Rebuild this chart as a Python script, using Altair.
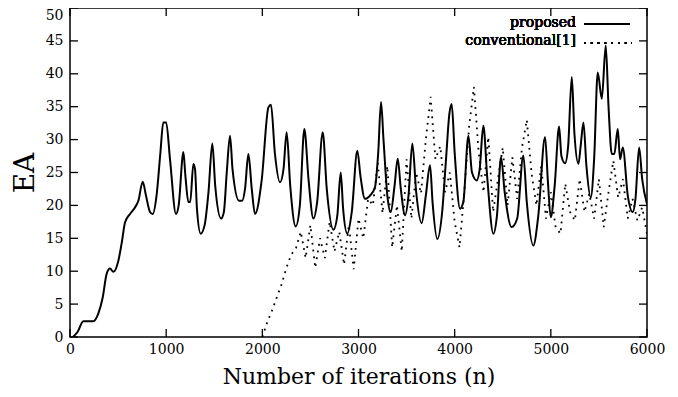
import altair as alt
import pandas as pd

# ---- data ----
prop_n = [30, 80, 139, 243, 295, 340, 381, 416, 451, 503, 540, 572, 624, 676, 711, 756, 790, 832, 860,
          900, 940, 970, 1000, 1040, 1102, 1130, 1179, 1200, 1231, 1250, 1283, 1300, 1320, 1359, 1400,
          1440, 1480, 1510, 1571, 1600, 1630, 1664, 1690, 1758, 1790, 1820, 1855, 1890, 1924, 1993,
          2063, 2090, 2130, 2184, 2220, 2253, 2290, 2347, 2390, 2437, 2480, 2531, 2570, 2628, 2670,
          2739, 2780, 2815, 2840, 2884, 2930, 2988, 3020, 3068, 3120, 3172, 3205, 3234, 3260, 3300,
          3335, 3375, 3408, 3440, 3484, 3520, 3560, 3600, 3657, 3700, 3744, 3770, 3820, 3870, 3910,
          3945, 3969, 4000, 4056, 4090, 4143, 4180, 4230, 4260, 4298, 4340, 4402, 4440, 4482, 4520,
          4593, 4650, 4714, 4750, 4818, 4870, 4940, 4970, 4999, 5040, 5086, 5110, 5148, 5180, 5218,
          5245, 5287, 5310, 5339, 5370, 5415, 5450, 5488, 5530, 5571, 5600, 5634, 5660, 5696, 5720,
          5748, 5800, 5852, 5880, 5918, 5950, 6000]
prop_ea = [0, 0.8, 2.4, 2.4, 3.6, 6, 9.6, 10.4, 9.9, 11.6, 14.5, 17.4, 18.7, 19.7, 20.7, 23.6, 21.5, 19,
           18.7, 21.5, 28, 32.6, 32.6, 27, 18.7, 20, 28.1, 24.5, 20.5, 20.5, 26.3, 25.5, 19.5, 15.7, 17,
           22, 29.4, 23, 18, 19, 25, 30.6, 25.5, 20.7, 20.7, 22.5, 27.8, 22.5, 18.7, 23.8,
           34.9, 35.3, 28, 23.5, 25.5, 31.1, 23, 16.8, 20, 31.6, 24, 18, 20.5, 31.1, 22.5,
           16.3, 18.5, 25, 19.5, 15.7, 19, 28.3, 24.5, 21, 21.5, 22.8, 28, 35.7, 30, 21.5,
           19, 23, 27.1, 22.5, 18.5, 21.5, 29.4, 22, 17.3, 21.5, 26.1, 20.5, 14.9, 19, 27,
           33.9, 35.4, 28, 19.5, 20.5, 30.6, 25, 23.8, 25.5, 32.1, 24, 15.7, 18.5, 27.3, 22,
           16.7, 18, 27.6, 20.5, 13.9, 18.5, 30.4, 23.5, 18.2, 23, 32, 27.5, 26.4, 29, 39.5,
           31, 26.3, 29, 32.6, 26, 21.2, 27, 40.2, 36.2, 44.3, 35, 27.8, 27.8, 31.6, 27,
           28.8, 21.5, 19, 21, 28.8, 24, 20.2]

conv_n = [2000, 2050, 2100, 2150, 2200, 2250, 2300, 2350, 2400, 2450, 2500, 2550, 2600, 2650, 2700,
          2750, 2800, 2850, 2900, 2950, 3000, 3050, 3100, 3150, 3200, 3250, 3300, 3350, 3400, 3450,
          3500, 3550, 3600, 3650, 3700, 3750, 3800, 3850, 3900, 3950, 4000, 4050, 4100, 4150, 4200,
          4250, 4300, 4350, 4400, 4450, 4500, 4550, 4600, 4650, 4700, 4750, 4800, 4850, 4900, 4950,
          5000, 5050, 5100, 5150, 5200, 5250, 5300, 5350, 5400, 5450, 5500, 5550, 5600, 5650, 5700,
          5750, 5800, 5850, 5900, 5950, 6000]
conv_ea = [0, 2.2, 4, 6, 8, 10.5, 12.5, 13.5, 16, 12, 17, 10.5, 15, 12, 17.5,
           13, 16, 11, 17, 10.3, 18, 15, 21, 20, 26.5, 18.8, 26, 13.6, 20, 13,
           27, 18, 25, 21.8, 30, 36.5, 27, 29, 22, 25, 17.5, 13.6, 22, 32, 38,
           28, 22, 30.4, 19, 24, 28.8, 20, 27.3, 21, 28.8, 33, 24.8, 20, 26, 18,
           22, 16.7, 15.7, 23.3, 19, 17.7, 24, 19, 21.8, 18, 24, 16.7, 22, 26.8, 21.2,
           24, 18, 21, 17.7, 19.7, 15.7]

x_ticks = [0, 1000, 2000, 3000, 4000, 5000, 6000]
y_ticks = [0, 5, 10, 15, 20, 25, 30, 35, 40, 45, 50]
series_names = ["proposed", "conventional[1]"]
x_title = "Number of iterations (n)"
y_title = "EA"

# ---- chart ----
FONT = "DejaVu Serif"
W, H = 577, 329
LEFT, TOP, RIGHT = 62, 0, 20
TICK = 8

df_p = pd.DataFrame({"n": prop_n, "ea": prop_ea})
df_c = pd.DataFrame({"n": conv_n, "ea": conv_ea})
df_xt = pd.DataFrame({"n": x_ticks})
df_yt = pd.DataFrame({"ea": y_ticks})

xs = alt.Scale(domain=[0, 6000], nice=False, zero=False)
ys = alt.Scale(domain=[0, 50], nice=False, zero=False)

x_axis = alt.Axis(values=x_ticks, ticks=False, domain=False, grid=False, labelFont=FONT,
                  labelFontSize=14, labelPadding=5, labelColor="black", format="d",
                  labelFlush=False,
                  title=x_title, titleFont=FONT, titleFontSize=22, titleFontWeight="normal",
                  titleColor="black", titlePadding=10)
y_axis = alt.Axis(values=y_ticks, ticks=False, domain=False, grid=False, labelFont=FONT,
                  labelFontSize=14, labelPadding=7, labelColor="black", labelFlush=False,
                  labelOffset={"condition": {"test": "datum.value == 50", "value": 7}, "value": 0},
                  title=y_title, titleFont=FONT, titleFontSize=28, titleFontWeight="normal",
                  titleColor="black", titlePadding=6)

X = alt.X("n:Q", scale=xs, axis=x_axis)
Y = alt.Y("ea:Q", scale=ys, axis=y_axis)

proposed = alt.Chart(df_p).mark_line(color="black", strokeWidth=2, clip=True,
                                     interpolate="monotone").encode(x=X, y=Y)
conventional = alt.Chart(df_c).mark_line(color="black", strokeWidth=1.8, strokeDash=[1.8, 5],
                                         clip=True).encode(x=X, y=Y)

tick_style = dict(color="black", strokeWidth=1.3)
left_ticks = alt.Chart(df_yt).mark_rule(**tick_style).encode(
    y=Y, x=alt.value(0), x2=alt.value(TICK))
right_ticks = alt.Chart(df_yt).mark_rule(**tick_style).encode(
    y=Y, x=alt.value(W - TICK), x2=alt.value(W))
bottom_ticks = alt.Chart(df_xt).mark_rule(**tick_style).encode(
    x=X, y=alt.value(H), y2=alt.value(H - TICK))
top_ticks = alt.Chart(df_xt).mark_rule(**tick_style).encode(
    x=X, y=alt.value(0), y2=alt.value(TICK))

leg_text_x = 506
leg1_y, leg2_y = 15, 33
txt = dict(align="right", baseline="middle", font=FONT, fontSize=14, fontWeight="normal",
           color="black")
leg_p_text = alt.Chart(df_xt).mark_text(**txt).encode(
    x=alt.value(leg_text_x), y=alt.value(leg1_y), text=alt.value(series_names[0]))
leg_c_text = alt.Chart(df_xt).mark_text(**txt).encode(
    x=alt.value(leg_text_x), y=alt.value(leg2_y), text=alt.value(series_names[1]))
leg_p_line = alt.Chart(df_xt).mark_rule(color="black", strokeWidth=2).encode(
    x=alt.value(leg_text_x + 8), x2=alt.value(leg_text_x + 54), y=alt.value(leg1_y + 1))
leg_c_line = alt.Chart(df_xt).mark_rule(color="black", strokeWidth=1.8, strokeDash=[1.8, 5]).encode(
    x=alt.value(leg_text_x + 8), x2=alt.value(leg_text_x + 56), y=alt.value(leg2_y + 2))

chart = alt.layer(
    proposed, conventional, left_ticks, right_ticks, bottom_ticks, top_ticks,
    leg_p_text, leg_c_text, leg_p_line, leg_c_line,
).properties(
    width=W, height=H, autosize="none",
    padding={"left": LEFT, "top": TOP, "right": RIGHT, "bottom": 381 - TOP - H},
).configure_view(stroke="black", strokeWidth=1.5)

chart.save("out.html", embed_options={"renderer": "svg", "actions": False})
